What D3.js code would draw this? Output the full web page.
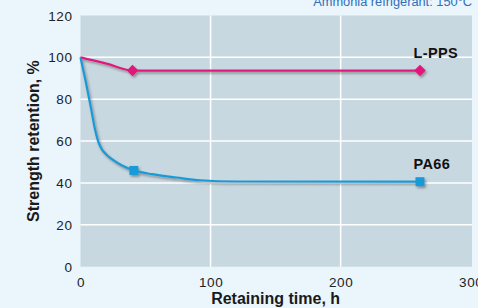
<!DOCTYPE html>
<html>
<head>
<meta charset="utf-8">
<script src="https://cdn.jsdelivr.net/npm/d3@7"></script>
<style>
  html, body { margin: 0; padding: 0; background: #eaf5fc; }
  svg { display: block; font-family: "Liberation Sans", Arial, sans-serif; }
</style>
</head>
<body>
<script>
// valores
const xTicks = [0, 100, 200, 300];
const yTicks = [0, 20, 40, 60, 80, 100, 120];

const ppsTime = [0, 20, 40, 261];
const ppsValue = [100, 97, 93.7, 93.7];
const ppsMarks = [40, 261];

const paTime = [0, 4, 8, 11, 13.5, 16, 20, 25, 32, 41, 55, 74, 92, 120, 261];
const paValue = [100, 88.5, 76, 66, 60, 56.5, 53.5, 51, 48.3, 46, 44.2, 42.6, 41.3, 40.7, 40.6];
const paMarks = [41, 261];

const width = 478, height = 308;
const svg = d3.select("body").append("svg")
    .attr("width", width)
    .attr("height", height);

const defs = svg.append("defs");
const sombra = defs.append("filter")
    .attr("id", "sombra")
    .attr("x", "-20%").attr("y", "-20%")
    .attr("width", "140%").attr("height", "160%");
sombra.append("feDropShadow")
    .attr("dx", 1.5).attr("dy", 2)
    .attr("stdDeviation", 1)
    .attr("flood-color", "#555")
    .attr("flood-opacity", 0.55);

const x = d3.scaleLinear().domain([0, 301]).range([80.5, 472]);
const y = d3.scaleLinear().domain([0, 120]).range([266.7, 15.5]);

// fondo del area de trazado
svg.append("rect")
    .attr("x", x(0)).attr("y", y(120))
    .attr("width", x(301) - x(0))
    .attr("height", y(0) - y(120))
    .attr("fill", "#c8d8e0");

// rejilla
svg.append("g")
    .selectAll("line")
    .data(yTicks.filter(d => d > 0 && d < 120))
    .join("line")
    .attr("x1", x(0)).attr("x2", x(301))
    .attr("y1", d => y(d)).attr("y2", d => y(d))
    .attr("stroke", "#fff").attr("stroke-width", 1.5);
svg.append("g")
    .selectAll("line")
    .data(xTicks.filter(d => d > 0 && d < 300))
    .join("line")
    .attr("x1", d => x(d)).attr("x2", d => x(d))
    .attr("y1", y(0)).attr("y2", y(120))
    .attr("stroke", "#fff").attr("stroke-width", 1.5);

// ejes
const ejeY = svg.append("g")
    .attr("transform", `translate(${x(0) - 8},0)`)
    .call(d3.axisLeft(y).tickValues(yTicks).tickSize(0).tickPadding(0));
ejeY.select(".domain").remove();
ejeY.selectAll("text")
    .attr("fill", "#222")
    .style("font-size", "13.5px")
    .style("letter-spacing", "0.6px")
    .attr("dy", "0.34em");

const ejeX = svg.append("g")
    .attr("transform", `translate(0,${y(0)})`)
    .call(d3.axisBottom(x).tickValues(xTicks).tickSize(0).tickPadding(0));
ejeX.select(".domain").remove();
ejeX.selectAll("text")
    .attr("fill", "#222")
    .style("font-size", "13.5px")
    .style("letter-spacing", "0.6px")
    .attr("dy", null)
    .attr("y", 20);

svg.append("text")
    .attr("x", (x(0) + x(300)) / 2)
    .attr("y", 303.5)
    .attr("text-anchor", "middle")
    .attr("fill", "#1a1a1a")
    .style("font-size", "16px")
    .style("font-weight", "bold")
    .text("Retaining time, h");

svg.append("text")
    .attr("transform", `translate(39,${(y(0) + y(120)) / 2}) rotate(-90)`)
    .attr("text-anchor", "middle")
    .attr("fill", "#1a1a1a")
    .style("font-size", "16px")
    .style("font-weight", "bold")
    .text("Strength retention, %");

svg.append("text")
    .attr("x", 472)
    .attr("y", 5.5)
    .attr("text-anchor", "end")
    .attr("fill", "#2f6fb8")
    .style("font-size", "12.8px")
    .text("Ammonia refrigerant: 150°C");

// series
const linea = d3.line()
    .x(d => x(d[0]))
    .y(d => y(d[1]))
    .curve(d3.curveMonotoneX);

const series = [
    { nombre: "L-PPS", color: "#e2177c", t: ppsTime, v: ppsValue, marcas: ppsMarks, simbolo: "diamante" },
    { nombre: "PA66", color: "#169bd8", t: paTime, v: paValue, marcas: paMarks, simbolo: "cuadrado" }
];

series.forEach(s => {
    const puntos = s.t.map((t, i) => [t, s.v[i]]);
    const g = svg.append("g").attr("filter", "url(#sombra)");
    g.append("path")
        .datum(puntos)
        .attr("d", linea)
        .attr("fill", "none")
        .attr("stroke", s.color)
        .attr("stroke-width", 2.2);
    const marcas = puntos.filter(p => s.marcas.includes(p[0]));
    if (s.simbolo === "diamante") {
        g.selectAll("path.m")
            .data(marcas)
            .join("path")
            .attr("class", "m")
            .attr("d", d3.symbol(d3.symbolDiamond2, 85))
            .attr("transform", d => `translate(${x(d[0])},${y(d[1])})`)
            .attr("fill", s.color);
    } else {
        g.selectAll("rect.m")
            .data(marcas)
            .join("rect")
            .attr("class", "m")
            .attr("x", d => x(d[0]) - 4.5)
            .attr("y", d => y(d[1]) - 4.5)
            .attr("width", 9).attr("height", 9)
            .attr("fill", s.color);
    }
    const ultimo = puntos[puntos.length - 1];
    svg.append("text")
        .attr("x", x(ultimo[0]) - 6.5)
        .attr("y", y(ultimo[1]) - 13)
        .attr("text-anchor", "start")
        .attr("fill", "#111")
        .style("font-size", "14.5px")
        .style("font-weight", "bold")
        .style("letter-spacing", "0.4px")
        .text(s.nombre);
});
</script>
</body>
</html>
